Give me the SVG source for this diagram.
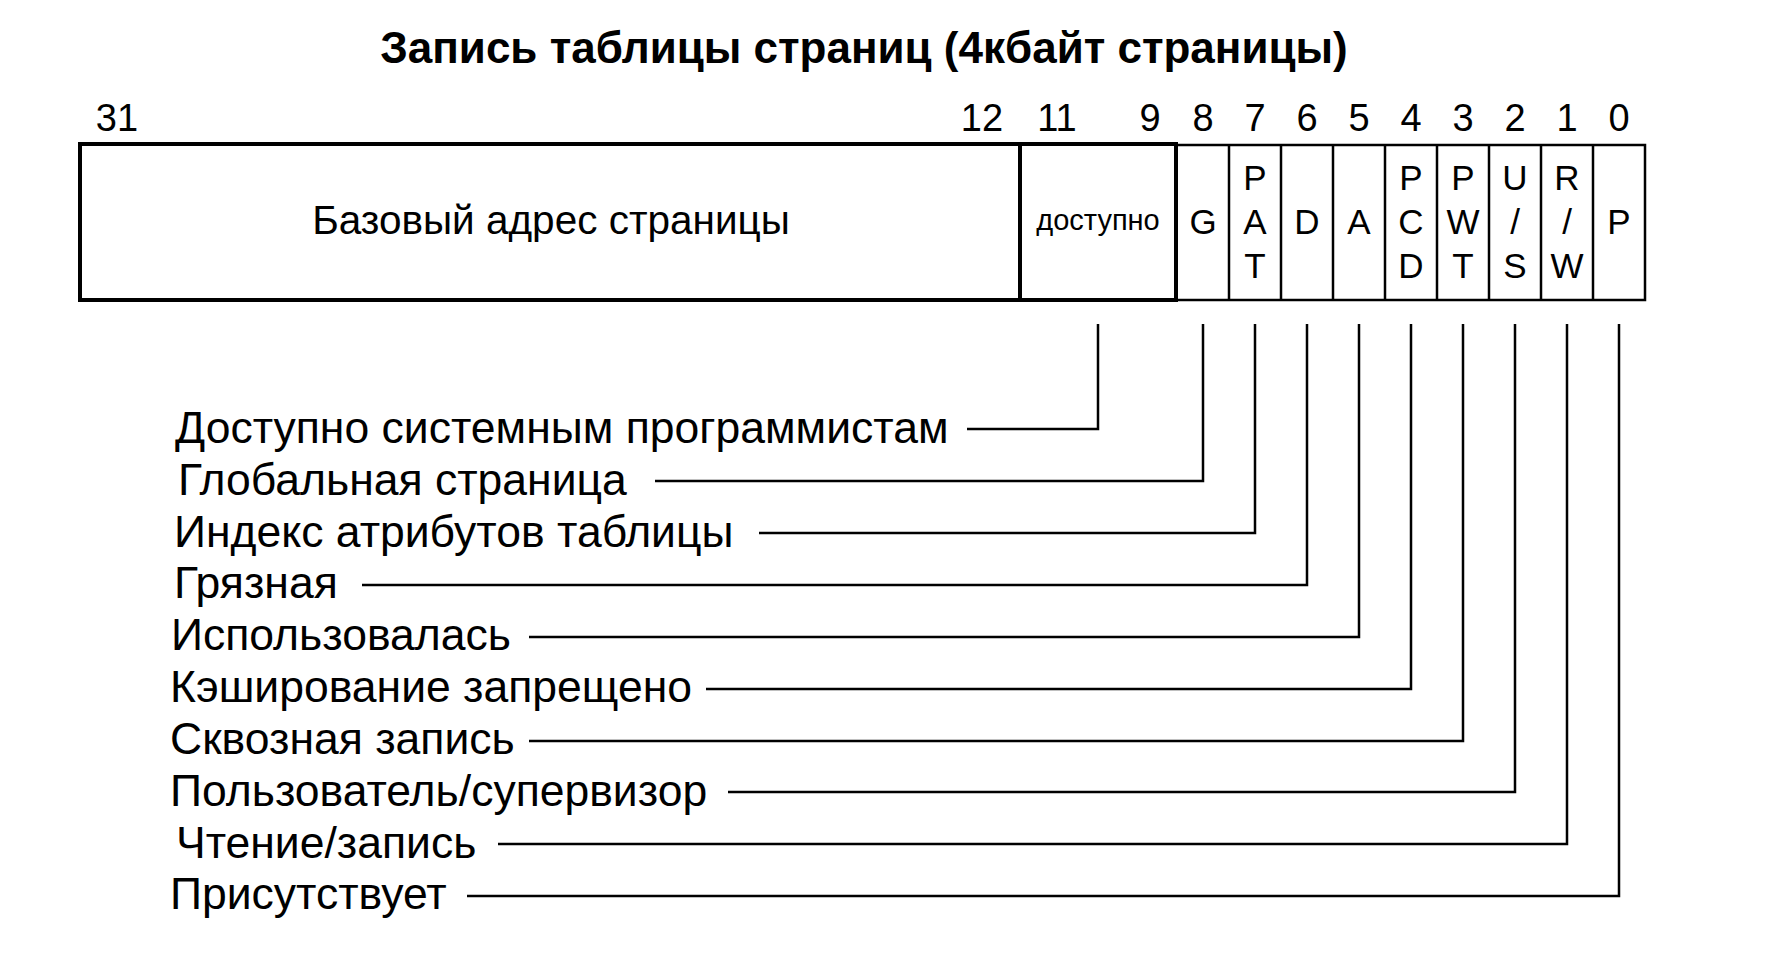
<svg xmlns="http://www.w3.org/2000/svg" width="1765" height="965" viewBox="0 0 1765 965">
<style>
text{font-family:"Liberation Sans",Arial,sans-serif;fill:#000}
.title{font-size:44px;font-weight:bold;text-anchor:middle}
.num{font-size:38px;text-anchor:middle}
.cell{font-size:35px;text-anchor:middle}
.lbl{font-size:44.5px}
.thick{fill:none;stroke:#000;stroke-width:4}
.thin{fill:none;stroke:#000;stroke-width:2.5}
.conn{fill:none;stroke:#000;stroke-width:2.5}
</style>
<rect width="1765" height="965" fill="#fff"/>
<text class="title" x="864" y="63">Запись таблицы страниц (4кбайт страницы)</text>
<g id="bitnumbers">
<text class="num" x="117" y="131">31</text>
<text class="num" x="982" y="131">12</text>
<text class="num" x="1057" y="131">11</text>
<text class="num" x="1150" y="131">9</text>
<text class="num" x="1203" y="131">8</text>
<text class="num" x="1255" y="131">7</text>
<text class="num" x="1307" y="131">6</text>
<text class="num" x="1359" y="131">5</text>
<text class="num" x="1411" y="131">4</text>
<text class="num" x="1463" y="131">3</text>
<text class="num" x="1515" y="131">2</text>
<text class="num" x="1567" y="131">1</text>
<text class="num" x="1619" y="131">0</text>
</g>
<g id="bitcells">
<rect class="thin" x="1176" y="145" width="469" height="155"/>
<line class="thin" x1="1229" y1="145" x2="1229" y2="300"/>
<line class="thin" x1="1281" y1="145" x2="1281" y2="300"/>
<line class="thin" x1="1333" y1="145" x2="1333" y2="300"/>
<line class="thin" x1="1385" y1="145" x2="1385" y2="300"/>
<line class="thin" x1="1437" y1="145" x2="1437" y2="300"/>
<line class="thin" x1="1489" y1="145" x2="1489" y2="300"/>
<line class="thin" x1="1541" y1="145" x2="1541" y2="300"/>
<line class="thin" x1="1593" y1="145" x2="1593" y2="300"/>
</g>
<g id="base">
<rect class="thick" x="80" y="144" width="940" height="156"/>
<text x="551" y="234" style="font-size:40.5px;text-anchor:middle">Базовый адрес страницы</text>
</g>
<g id="avail">
<rect class="thick" x="1020" y="144" width="156" height="156"/>
<text x="1098" y="230" style="font-size:29px;text-anchor:middle">доступно</text>
</g>
<g id="bit8"><text class="cell" x="1203" y="234">G</text></g>
<g id="bit7"><text class="cell" x="1255" y="190">P</text><text class="cell" x="1255" y="234">A</text><text class="cell" x="1255" y="278">T</text></g>
<g id="bit6"><text class="cell" x="1307" y="234">D</text></g>
<g id="bit5"><text class="cell" x="1359" y="234">A</text></g>
<g id="bit4"><text class="cell" x="1411" y="190">P</text><text class="cell" x="1411" y="234">C</text><text class="cell" x="1411" y="278">D</text></g>
<g id="bit3"><text class="cell" x="1463" y="190">P</text><text class="cell" x="1463" y="234">W</text><text class="cell" x="1463" y="278">T</text></g>
<g id="bit2"><text class="cell" x="1515" y="190">U</text><text class="cell" x="1515" y="234">/</text><text class="cell" x="1515" y="278">S</text></g>
<g id="bit1"><text class="cell" x="1567" y="190">R</text><text class="cell" x="1567" y="234">/</text><text class="cell" x="1567" y="278">W</text></g>
<g id="bit0"><text class="cell" x="1619" y="234">P</text></g>
<g id="labels">
<text class="lbl" x="175" y="443">Доступно системным программистам</text>
<text class="lbl" x="178" y="495">Глобальная страница</text>
<text class="lbl" x="174" y="547">Индекс атрибутов таблицы</text>
<text class="lbl" x="174" y="598">Грязная</text>
<text class="lbl" x="171" y="650">Использовалась</text>
<text class="lbl" x="170" y="702">Кэширование запрещено</text>
<text class="lbl" x="170" y="754">Сквозная запись</text>
<text class="lbl" x="170" y="806">Пользователь/супервизор</text>
<text class="lbl" x="176" y="858">Чтение/запись</text>
<text class="lbl" x="170" y="909">Присутствует</text>
</g>
<g id="connectors">
<polyline class="conn" points="1098,324 1098,429 967,429"/>
<polyline class="conn" points="1203,324 1203,481 655,481"/>
<polyline class="conn" points="1255,324 1255,533 759,533"/>
<polyline class="conn" points="1307,324 1307,585 362,585"/>
<polyline class="conn" points="1359,324 1359,637 529,637"/>
<polyline class="conn" points="1411,324 1411,689 706,689"/>
<polyline class="conn" points="1463,324 1463,741 529,741"/>
<polyline class="conn" points="1515,324 1515,792 728,792"/>
<polyline class="conn" points="1567,324 1567,844 498,844"/>
<polyline class="conn" points="1619,324 1619,896 467,896"/>
</g>
</svg>
